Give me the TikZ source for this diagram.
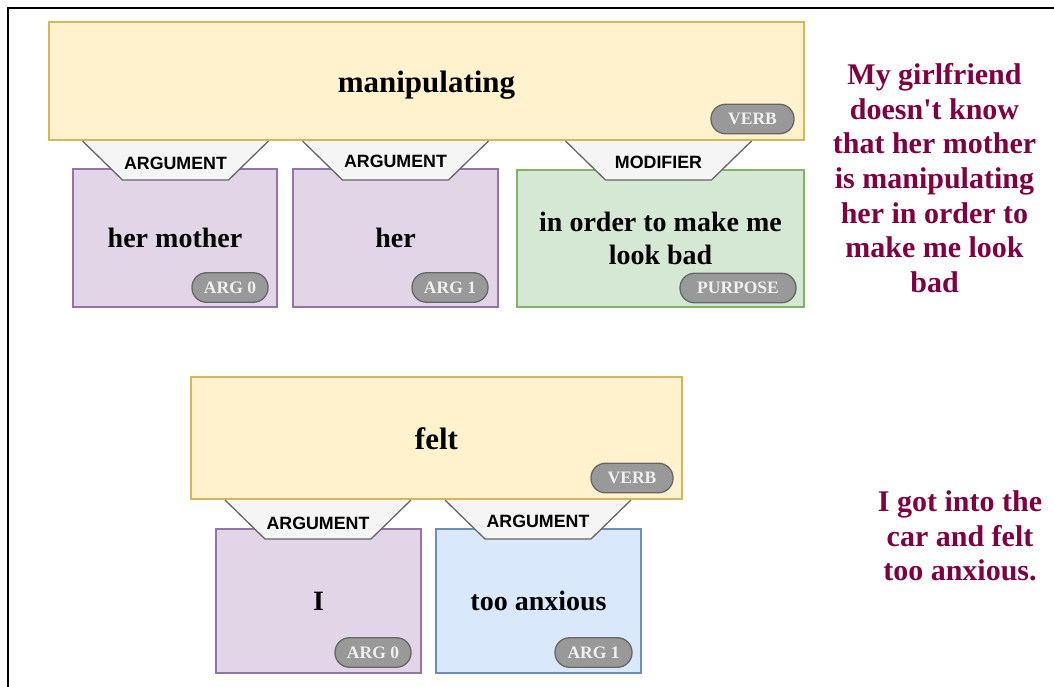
\documentclass[tikz,border=0pt]{standalone}
\usepackage{fontspec}
\setmainfont{Liberation Serif}
\newfontfamily\tabfont{Liberation Sans}
\definecolor{verbfill}{HTML}{FFF2CC}
\definecolor{verbline}{HTML}{D6B656}
\definecolor{argfill}{HTML}{E1D5E7}
\definecolor{argline}{HTML}{9673A6}
\definecolor{modfill}{HTML}{D5E8D4}
\definecolor{modline}{HTML}{82B366}
\definecolor{blufill}{HTML}{DAE8FC}
\definecolor{bluline}{HTML}{6C8EBF}
\definecolor{tabfill}{HTML}{F5F5F5}
\definecolor{tabline}{HTML}{666666}
\definecolor{pillfill}{HTML}{999999}
\definecolor{pilltext}{HTML}{F0F0F0}
\definecolor{sentence}{HTML}{800040}

% role tab: name, centre x, top y, text y, text
\newcommand\roletab[5]{%
  \fill[tabfill] (#2-93,#3+1) -- (#2+93,#3+1) -- (#2+53,#3+40) -- (#2-53,#3+40) -- cycle;
  \draw[tabline, line width=1.3pt, line join=miter] (#2-93,#3+1) -- (#2-53,#3+40) -- (#2+53,#3+40) -- (#2+93,#3+1);
  \node[tabtext] (#1) at (#2,#4) {#5};}

\begin{document}
\begin{tikzpicture}[x=1pt, y=-1pt,
  box/.style={rectangle, inner sep=0pt, line width=1.5pt, align=center,
    font=\fontsize{28}{33}\selectfont\bfseries},
  verbbox/.style={box, fill=verbfill, draw=verbline},
  verbtext/.style={inner sep=0pt, font=\fontsize{31}{36}\selectfont\bfseries},
  argbox/.style={box, fill=argfill, draw=argline},
  modbox/.style={box, fill=modfill, draw=modline},
  blubox/.style={box, fill=blufill, draw=bluline},
  pill/.style={rectangle, rounded corners=14.5pt, fill=pillfill, draw=tabline, line width=1.3pt,
    inner sep=0pt, minimum height=29.5pt, text=pilltext,
    font=\fontsize{17.5}{20}\selectfont\bfseries},
  tabtext/.style={inner sep=0pt, font=\tabfont\fontsize{17.8}{20}\selectfont\bfseries},
  sentencetext/.style={align=center, inner sep=0pt, text=sentence,
    font=\fontsize{30}{34.7}\selectfont\bfseries}]

\useasboundingbox (0,0) rectangle (1054,686);
\fill[white] (0,0) rectangle (1054,686);
\draw[line width=2pt] (8,687) -- (8,8) -- (1055,8);

% first sentence
\node[verbbox, minimum width=755pt, minimum height=118pt] (v1) at (426.5,81) {};
\node[verbtext] (v1label) at (426.5,85) {manipulating};
\node[pill, minimum width=83pt] (v1tag) at (752.5,119) {VERB};
\node[argbox, minimum width=204pt, minimum height=138pt] (a1) at (175,238) {her mother};
\node[argbox, minimum width=205pt, minimum height=138pt] (a2) at (395.5,238) {her};
\node[modbox, minimum width=287pt, minimum height=137pt] (m1) at (660.5,238.5) {in order to make me\\look bad};
\node[pill, minimum width=76pt] (a1tag) at (230,287.5) {ARG 0};
\node[pill, minimum width=76pt] (a2tag) at (450,287.5) {ARG 1};
\node[pill, minimum width=116pt] (m1tag) at (738,288) {PURPOSE};
\roletab{t1}{175.5}{140}{163}{ARGUMENT}
\roletab{t2}{395.5}{140}{161}{ARGUMENT}
\roletab{t3}{658.5}{140}{162}{MODIFIER}

\node[sentencetext] (s1) at (934.5,178) {My girlfriend\\doesn\textquotesingle t know\\that her mother\\is manipulating\\her in order to\\make me look\\bad};

% second sentence
\node[verbbox, minimum width=491pt, minimum height=122pt] (v2) at (436.5,438) {};
\node[verbtext] (v2label) at (436.5,439) {felt};
\node[pill, minimum width=82pt] (v2tag) at (632,478) {VERB};
\node[argbox, minimum width=205pt, minimum height=144pt] (b1) at (318.5,601) {I};
\node[blubox, minimum width=205pt, minimum height=144pt] (b2) at (538.5,601) {too anxious};
\node[pill, minimum width=76pt] (b1tag) at (373,652.5) {ARG 0};
\node[pill, minimum width=77pt] (b2tag) at (593.5,652.5) {ARG 1};
\roletab{u1}{318}{499}{523}{ARGUMENT}
\roletab{u2}{538}{499}{521}{ARGUMENT}

\node[sentencetext] (s2) at (960,536) {I got into the\\car and felt\\too anxious.};
\end{tikzpicture}
\end{document}
